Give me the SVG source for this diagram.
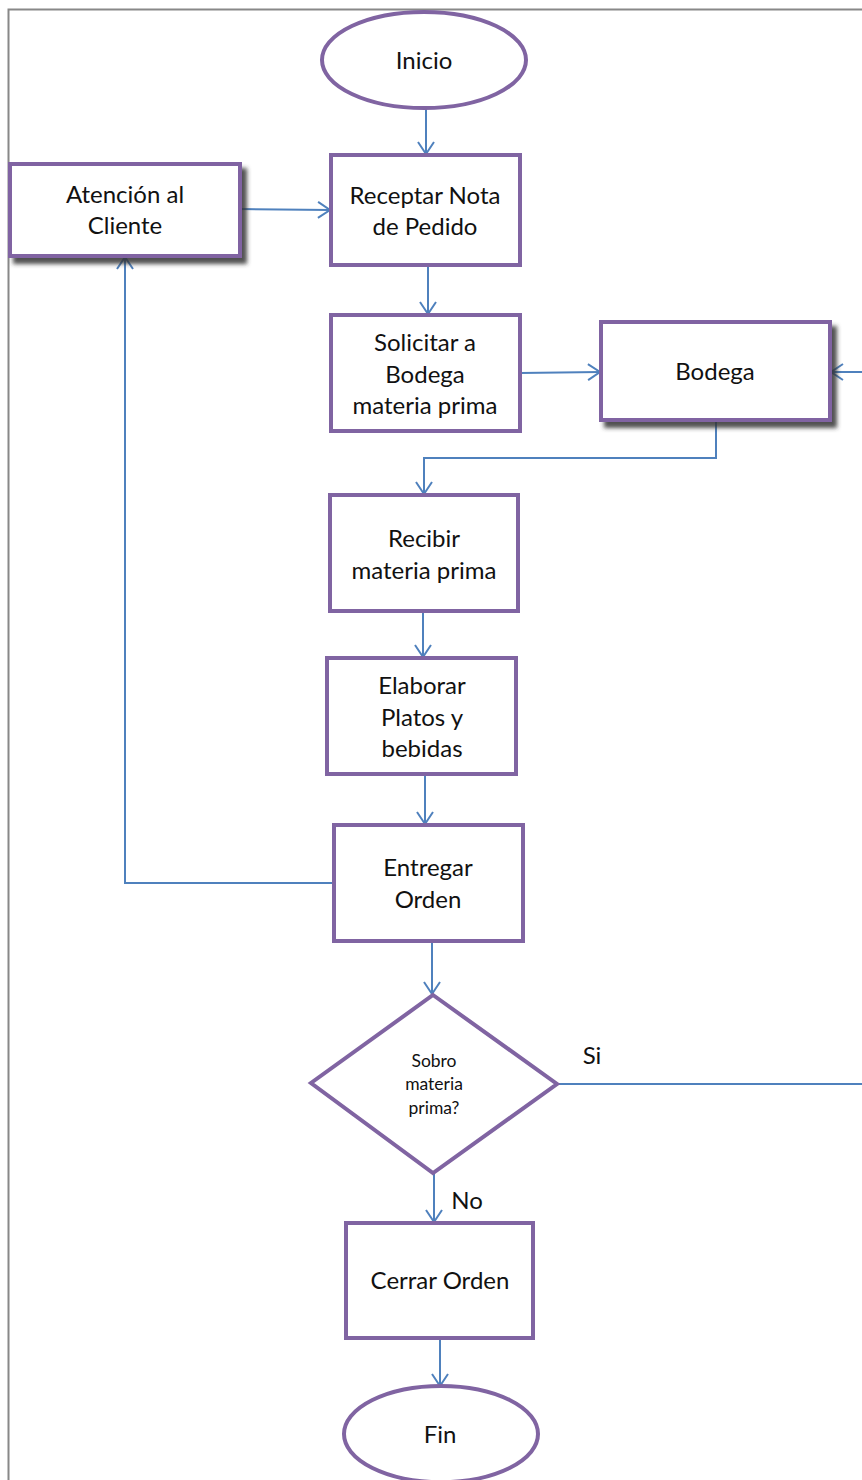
<svg xmlns="http://www.w3.org/2000/svg" width="862" height="1480" viewBox="0 0 862 1480">
<style>
.n{fill:#fff;stroke:#8064A2;stroke-width:4}
.t{font-family:Lato,"Open Sans",sans-serif;font-size:24px;fill:#111;text-anchor:middle}
.s{font-family:Lato,"Open Sans",sans-serif;font-size:17.5px;fill:#111;text-anchor:middle}
.c{fill:none;stroke:#4F81BD;stroke-width:2}
</style>
<defs>
<marker id="a" markerUnits="userSpaceOnUse" markerWidth="16" markerHeight="18" refX="13" refY="9" orient="auto">
<path d="M1,1 L13,9 L1,17" fill="none" stroke="#4F81BD" stroke-width="2"/>
</marker>
<filter id="sh" x="-10%" y="-10%" width="130%" height="140%">
<feDropShadow dx="5" dy="6" stdDeviation="2" flood-color="#333" flood-opacity="0.85"/>
</filter>
</defs>
<rect x="8.5" y="9.5" width="900" height="1500" fill="none" stroke="#888" stroke-width="2"/>
<g id="connectors">
<path class="c" d="M426,108 V154" marker-end="url(#a)"/>
<path class="c" d="M240,209 L330,210" marker-end="url(#a)"/>
<path class="c" d="M428,265 V314" marker-end="url(#a)"/>
<path class="c" d="M520,373 L600,372" marker-end="url(#a)"/>
<path class="c" d="M716,420 V458 H424 V494" marker-end="url(#a)"/>
<path class="c" d="M423,611 V657" marker-end="url(#a)"/>
<path class="c" d="M425,774 V824" marker-end="url(#a)"/>
<path class="c" d="M334,883 H125 V257" marker-end="url(#a)"/>
<path class="c" d="M432,941 V994" marker-end="url(#a)"/>
<path class="c" d="M557,1084 H864"/>
<path class="c" d="M864,372 H831" marker-end="url(#a)"/>
<path class="c" d="M434,1173 V1222" marker-end="url(#a)"/>
<path class="c" d="M440,1338 V1386" marker-end="url(#a)"/>
<text class="t" x="592" y="1064">Si</text>
<text class="t" x="467" y="1209">No</text>
</g>
<g id="inicio"><ellipse class="n" cx="424" cy="60" rx="102" ry="48"/><text class="t" x="424" y="69">Inicio</text></g>
<g id="atencion"><rect class="n" x="10" y="164" width="230" height="92" filter="url(#sh)"/><text class="t" x="125" y="203">Atención al</text><text class="t" x="125" y="234">Cliente</text></g>
<g id="receptar"><rect class="n" x="331" y="155" width="189" height="110"/><text class="t" x="425" y="204">Receptar Nota</text><text class="t" x="425" y="235">de Pedido</text></g>
<g id="solicitar"><rect class="n" x="331" y="315" width="189" height="116"/><text class="t" x="425" y="351">Solicitar a</text><text class="t" x="425" y="383">Bodega</text><text class="t" x="425" y="414">materia prima</text></g>
<g id="bodega"><rect class="n" x="601" y="322" width="229" height="98" filter="url(#sh)"/><text class="t" x="715" y="380">Bodega</text></g>
<g id="recibir"><rect class="n" x="330" y="495" width="188" height="116"/><text class="t" x="424" y="547">Recibir</text><text class="t" x="424" y="579">materia prima</text></g>
<g id="elaborar"><rect class="n" x="327" y="658" width="189" height="116"/><text class="t" x="422" y="694">Elaborar</text><text class="t" x="422" y="726">Platos y</text><text class="t" x="422" y="757">bebidas</text></g>
<g id="entregar"><rect class="n" x="334" y="825" width="189" height="116"/><text class="t" x="428" y="876">Entregar</text><text class="t" x="428" y="908">Orden</text></g>
<g id="decision"><polygon class="n" points="433,995 557,1084 433,1173 311,1083"/><text class="s" x="434" y="1067">Sobro</text><text class="s" x="434" y="1090">materia</text><text class="s" x="434" y="1114">prima?</text></g>
<g id="cerrar"><rect class="n" x="346" y="1223" width="187" height="115"/><text class="t" x="440" y="1289">Cerrar Orden</text></g>
<g id="fin"><ellipse class="n" cx="441" cy="1434" rx="97" ry="48"/><text class="t" x="440" y="1443">Fin</text></g>
</svg>
